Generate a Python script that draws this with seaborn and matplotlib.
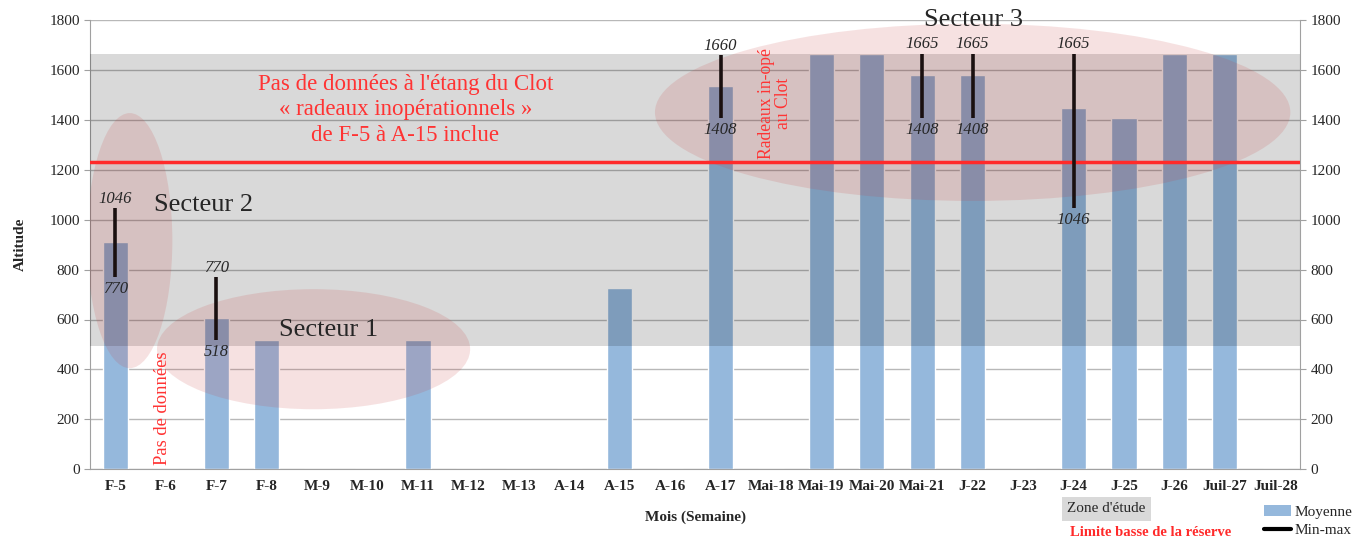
import numpy as np
import pandas as pd
import matplotlib
matplotlib.use("Agg")
import matplotlib.pyplot as plt
import seaborn as sns
from matplotlib.patches import Ellipse, Patch
from matplotlib.lines import Line2D

# Données
semaines = ['F-5', 'F-6', 'F-7', 'F-8', 'M-9', 'M-10', 'M-11', 'M-12', 'M-13', 'A-14',
            'A-15', 'A-16', 'A-17', 'Mai-18', 'Mai-19', 'Mai-20', 'Mai-21', 'J-22', 'J-23',
            'J-24', 'J-25', 'J-26', 'Juil-27', 'Juil-28']
moyenne = [910, 0, 605, 518, 0, 0, 518, 0, 0, 0,
           728, 0, 1535, 0, 1665, 1665, 1580, 1580, 0,
           1448, 1408, 1665, 1665, 0]
minmax_semaines = ['F-5', 'F-7', 'A-17', 'Mai-21', 'J-22', 'J-24']
minmax_min = [770, 518, 1408, 1408, 1408, 1046]
minmax_max = [1046, 770, 1660, 1665, 1665, 1665]
zone_etude = (495, 1665)
limite_reserve = 1230

df = pd.DataFrame({'semaine': semaines, 'moyenne': moyenne})

sns.set_style("white")
plt.rcParams['font.family'] = ['Liberation Serif', 'DejaVu Serif']

fig = plt.figure(figsize=(13.66, 5.4), dpi=100)
ax = fig.add_axes([0.066, 0.131, 0.886, 0.832])

sns.barplot(data=df, x='semaine', y='moyenne', color='#95b8dc', saturation=1,
            width=0.5, ax=ax, zorder=2)

# zone d'étude (gris) par-dessus les barres
ax.axhspan(zone_etude[0], zone_etude[1], color='black', alpha=0.15, lw=0, zorder=3)
ax.axhline(limite_reserve, color='#ff2a2a', lw=2.5, zorder=6)

# min-max
pos = {s: i for i, s in enumerate(semaines)}
for s, lo, hi in zip(minmax_semaines, minmax_min, minmax_max):
    x = pos[s]
    ax.vlines(x, lo, hi, color='#1a1010', lw=2.6, zorder=7)
    ax.text(x, hi + 5, str(hi), ha='center', va='bottom', style='italic', fontsize=12, zorder=8)
    ax.text(x, lo - 15, str(lo), ha='center', va='top', style='italic', fontsize=12, zorder=8)

# ellipses des secteurs
for (cx, cy, w, h) in [(0.285, 916, 1.69, 1022), (3.93, 481, 6.21, 481), (17.0, 1430, 12.6, 710)]:
    ax.add_patch(Ellipse((cx, cy), w, h, facecolor='#c83c3c', alpha=0.15, lw=0, zorder=5))

ax.text(1.74, 1060, 'Secteur 2', fontsize=19, ha='center', va='center', zorder=9)
ax.text(4.22, 557, 'Secteur 1', fontsize=19, ha='center', va='center', zorder=9)
ax.text(17.02, 1800, 'Secteur 3', fontsize=19, ha='center', va='center', zorder=9)

ax.text(5.75, 1440, "Pas de données à l'étang du Clot\n« radeaux inopérationnels »\nde F-5 à A-15 inclue",
        color='#ff3333', fontsize=16.5, ha='center', va='center', linespacing=1.3, zorder=9)
ax.text(0.93, 245, 'Pas de données', color='#ff3333', fontsize=13.4, rotation=90,
        ha='center', va='center', zorder=9)
ax.text(13.09, 1467, 'Radeaux in-opé\nau Clot', color='#ff3333', fontsize=12.7, rotation=90,
        ha='center', va='center', linespacing=1.0, zorder=9)

# axes
ax.set_ylim(0, 1800)
ax.set_xlim(-0.5, len(semaines) - 0.5)
ax.set_yticks(range(0, 1801, 200))
ax.yaxis.grid(True, color='#b8b8b8', lw=1, zorder=1)
ax.set_axisbelow(True)
ax.set_xlabel('Mois (Semaine)', fontweight='bold', fontsize=11, labelpad=12)
ax.set_ylabel('Altitude', fontweight='bold', fontsize=11, labelpad=16)
ax.tick_params(axis='x', length=0, labelsize=11, pad=8)
ax.set_xticks(np.arange(-0.5, len(semaines), 1), minor=True)
ax.tick_params(axis='x', which='minor', length=4, color='#a0a0a0')
ax.tick_params(axis='y', length=4, color='#a0a0a0', labelsize=11, left=True)
for lab in ax.get_xticklabels():
    lab.set_fontweight('bold')
for sp in ['left', 'right', 'bottom']:
    ax.spines[sp].set_color('#a0a0a0')
ax.spines['top'].set_visible(False)

ax2 = ax.twinx()
ax2.set_ylim(ax.get_ylim())
ax2.set_yticks(range(0, 1801, 200))
ax2.tick_params(axis='y', length=4, color='#a0a0a0', labelsize=11)
for sp in ['left', 'right', 'bottom', 'top']:
    ax2.spines[sp].set_visible(False)

# légende
fig.text(0.81, 0.058, "Zone d'étude", fontsize=11, ha='center', va='center',
         bbox=dict(boxstyle='square,pad=0.35', fc='#d9d9d9', ec='none'))
fig.text(0.842, 0.013, 'Limite basse de la réserve', color='#ff2a2a', fontweight='bold',
         fontsize=10.5, ha='center', va='center')
handles = [Patch(facecolor='#95b8dc', edgecolor='none', label='Moyenne'),
           Line2D([0], [0], color='black', lw=3, label='Min-max')]
fig.legend(handles=handles, loc='lower right', bbox_to_anchor=(1.0, -0.02), frameon=False,
           fontsize=11, handlelength=1.8, handletextpad=0.2, labelspacing=0.3)

fig.savefig('out.png', dpi=100)
